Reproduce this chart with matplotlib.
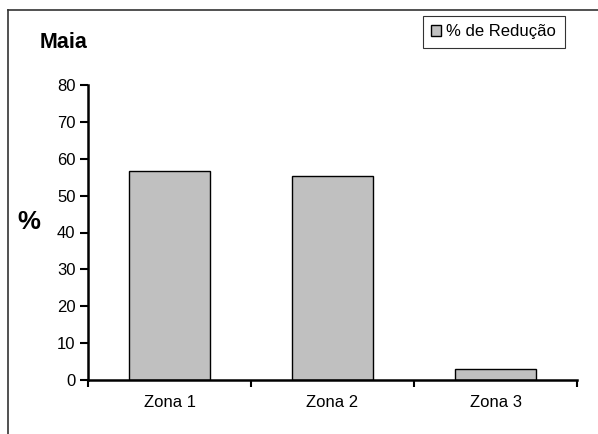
import matplotlib.pyplot as plt
from matplotlib.lines import Line2D

plt.rcParams['font.family'] = ['Liberation Sans', 'DejaVu Sans']

categories = ['Zona 1', 'Zona 2', 'Zona 3']
reducao = [56.6, 55.3, 3.1]

fig = plt.figure(figsize=(5.98, 4.34), dpi=100)
ax = fig.add_axes([88 / 598, 54 / 434, (577 - 88) / 598, (380 - 85) / 434])

xs = list(range(len(categories)))
ax.bar(xs, reducao, width=0.5, color='#c0c0c0', edgecolor='black', linewidth=1.0,
       label='% de Redução')

ax.set_xlim(-0.5, len(categories) - 0.5)
ax.set_ylim(0, 80)
ax.set_yticks(range(0, 81, 10))
ax.set_xticks(xs)
ax.set_xticklabels(categories, fontsize=12)
ax.set_xticks([i + 0.5 for i in range(-1, len(categories))], minor=True)
ax.tick_params(axis='x', which='major', length=0, pad=11)
ax.tick_params(axis='x', which='minor', length=5, width=1.5, direction='out')
ax.tick_params(axis='y', length=6, width=1.5, direction='out', labelsize=12, pad=3)

for side in ['top', 'right']:
    ax.spines[side].set_visible(False)
for side in ['left', 'bottom']:
    ax.spines[side].set_linewidth(1.8)

fig.text(40 / 598, 1 - 43 / 434, 'Maia', fontsize=15.5, fontweight='bold', va='center', ha='left')
fig.text(17 / 598, 1 - 222 / 434, '%', fontsize=18.5, fontweight='bold', va='center', ha='left')

leg = ax.legend(loc='upper left', bbox_to_anchor=(423 / 598, 1 - 16 / 434),
                bbox_transform=fig.transFigure, fontsize=12, frameon=True, fancybox=False,
                borderpad=0.5, handlelength=0.6, handleheight=0.6, handletextpad=0.3,
                borderaxespad=0)
leg.get_frame().set_edgecolor('black')
leg.get_frame().set_linewidth(0.8)

# outer frame (left and top only visible)
fig.add_artist(Line2D([8 / 598, 8 / 598], [0, 1 - 10 / 434], transform=fig.transFigure,
                      color='#333333', linewidth=1.2))
fig.add_artist(Line2D([8 / 598, 1], [1 - 10 / 434, 1 - 10 / 434], transform=fig.transFigure,
                      color='#333333', linewidth=1.2))

fig.savefig('out.png', dpi=100)
